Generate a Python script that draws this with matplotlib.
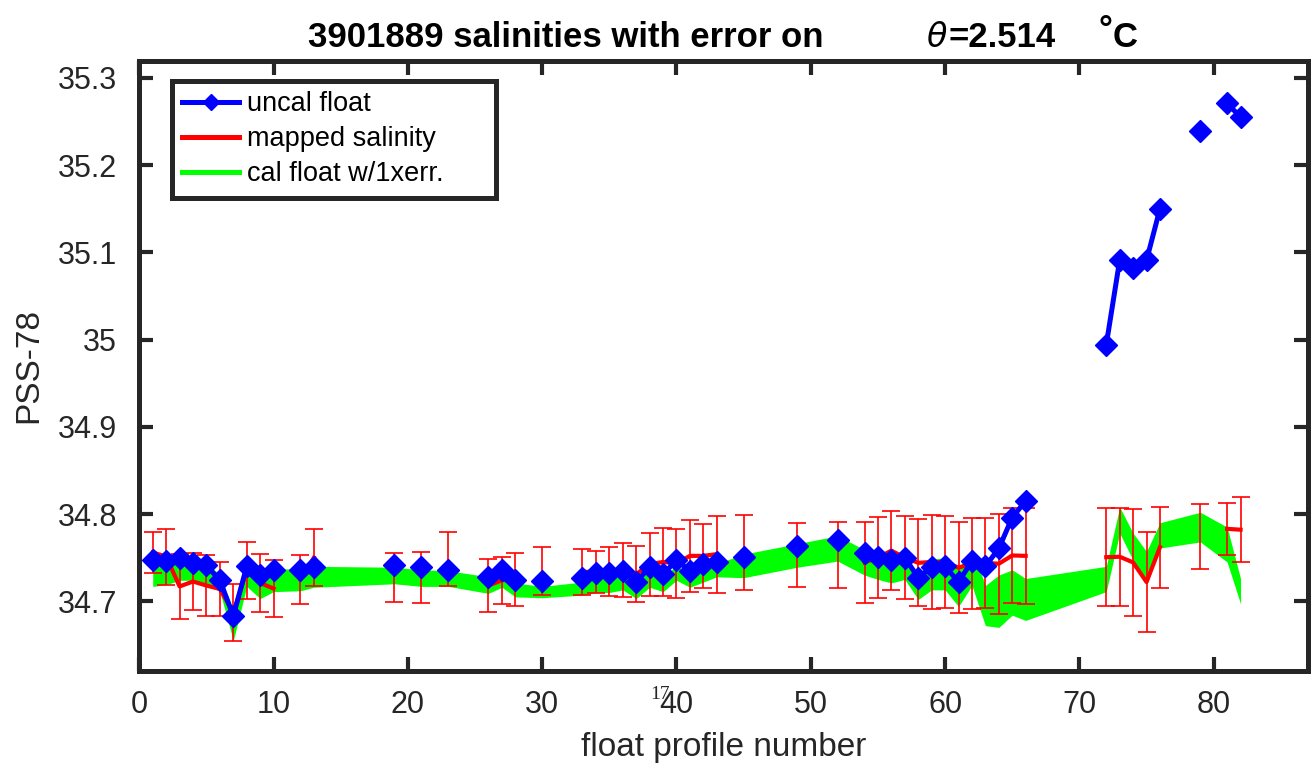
import numpy as np
import matplotlib.pyplot as plt
from matplotlib.lines import Line2D

plt.rcParams['font.family'] = ['Liberation Sans', 'DejaVu Sans']

# float profile numbers that have data
profiles = [1, 2, 3, 4, 5, 6, 7, 8, 9, 10, 12, 13, 19, 21, 23, 26, 27, 28, 30,
            33, 34, 35, 36, 37, 38, 39, 40, 41, 42, 43, 45, 49, 52,
            54, 55, 56, 57, 58, 59, 60, 61, 62, 63, 64, 65, 66,
            72, 73, 74, 75, 76, 79, 81, 82]

uncal_sal = [34.747, 34.746, 34.750, 34.744, 34.741, 34.724, 34.683, 34.740, 34.730, 34.736,
             34.736, 34.739, 34.741, 34.739, 34.736, 34.728, 34.736, 34.724, 34.723,
             34.727, 34.732, 34.7325, 34.735, 34.722, 34.739, 34.731, 34.747, 34.735, 34.7425, 34.745,
             34.751, 34.763, 34.770,
             34.7555, 34.751, 34.747, 34.750, 34.727, 34.739, 34.740, 34.722, 34.746, 34.740,
             34.7605, 34.796, 34.815,
             34.994, 35.091, 35.082, 35.091, 35.150, 35.2395, 35.271, 35.255]

mapped_sal = [34.756, 34.751, 34.717, 34.7226, 34.718, 34.714, 34.687, 34.735, 34.721, 34.7145,
              34.725, 34.750, 34.727, 34.727, 34.748, 34.718, 34.724, 34.725, 34.7345,
              34.7335, 34.734, 34.734, 34.7355, 34.731, 34.7425, 34.745, 34.7435, 34.752, 34.752, 34.754,
              34.756, 34.753, 34.753,
              34.7445, 34.750, 34.758, 34.750, 34.744, 34.745, 34.745, 34.7385, 34.743, 34.744,
              34.743, 34.7525, 34.752,
              34.7505, 34.751, 34.7445, 34.722, 34.762, 34.774, 34.783, 34.782]

mapped_err = [0.0235, 0.032, 0.037, 0.033, 0.0345, 0.031, 0.033, 0.033, 0.033, 0.0325,
              0.028, 0.033, 0.028, 0.029, 0.031, 0.030, 0.027, 0.0305, 0.0275,
              0.0265, 0.024, 0.028, 0.031, 0.032, 0.036, 0.0395, 0.0395, 0.041, 0.037, 0.044,
              0.043, 0.037, 0.0375,
              0.0465, 0.0465, 0.045, 0.048, 0.050, 0.054, 0.053, 0.0525, 0.052, 0.052,
              0.0575, 0.0545, 0.055,
              0.0565, 0.056, 0.0615, 0.057, 0.0465, 0.037, 0.030, 0.037]

# calibrated float salinity minus / plus its error
cal_lo = [34.717, 34.719, 34.724, 34.724, 34.720, 34.711, 34.655, 34.717, 34.703, 34.711,
          34.712, 34.716, 34.720, 34.717, 34.717, 34.709, 34.716, 34.705, 34.704,
          34.707, 34.710, 34.710, 34.713, 34.703, 34.716, 34.711, 34.724, 34.716, 34.722, 34.728,
          34.727, 34.739, 34.746,
          34.730, 34.725, 34.721, 34.725, 34.702, 34.713, 34.713, 34.694, 34.718, 34.672,
          34.670, 34.684, 34.678,
          34.711, 34.778, 34.747, 34.724, 34.761, 34.768, 34.745, 34.697]
cal_hi = [34.748, 34.748, 34.752, 34.748, 34.745, 34.730, 34.690, 34.742, 34.733, 34.737,
          34.737, 34.740, 34.739, 34.736, 34.735, 34.728, 34.736, 34.721, 34.717,
          34.722, 34.727, 34.727, 34.729, 34.718, 34.737, 34.728, 34.741, 34.731, 34.739, 34.743,
          34.754, 34.766, 34.775,
          34.759, 34.754, 34.750, 34.752, 34.730, 34.748, 34.750, 34.738, 34.761, 34.718,
          34.730, 34.736, 34.726,
          34.740, 34.808, 34.778, 34.757, 34.790, 34.802, 34.785, 34.726]

all_profiles = np.arange(1, 83)


def with_gaps(vals):
    # missing profiles become NaN so the lines break there
    out = np.full(all_profiles.size, np.nan)
    out[np.array(profiles) - 1] = vals
    return out


fig = plt.figure(figsize=(13.16, 7.66), dpi=100)
W, H = 1316, 766
ax = fig.add_axes([139.3 / W, 1 - 671 / H, (1307.7 - 139.3) / W, (671 - 60.5) / H])

ax.fill_between(profiles, cal_lo, cal_hi, color='#00ff00', lw=0, zorder=1)
ax.plot(all_profiles, with_gaps(mapped_sal), color='red', lw=3, zorder=2)
ax.errorbar(profiles, mapped_sal, yerr=mapped_err, fmt='none', ecolor='red',
            elinewidth=1.2, capsize=6.8, capthick=1.2, zorder=3)
ax.plot(all_profiles, with_gaps(uncal_sal), color='blue', lw=3.6, marker='D', ms=11,
        mec='blue', zorder=4)

ax.set_xlim(0, 87)
ax.set_ylim(34.62, 35.32)
ax.set_xticks(np.arange(0, 81, 10))
ax.set_yticks(np.arange(34.7, 35.31, 0.1))
ax.set_yticklabels(['%g' % round(v, 1) for v in np.arange(34.7, 35.31, 0.1)])

dark = '#262626'
for s in ax.spines.values():
    s.set_linewidth(3.6)
    s.set_color(dark)
ax.tick_params(direction='in', length=10, width=3, color=dark, labelcolor=dark,
               labelsize=22, top=True, right=True)
ax.tick_params(axis='x', pad=14)
ax.tick_params(axis='y', pad=16)

ax.set_xlabel('float profile number', fontsize=24, color=dark, labelpad=8)
ax.set_ylabel('PSS-78', fontsize=24, color=dark, labelpad=10)

handles = [Line2D([], [], color='blue', lw=3.6, marker='D', ms=8),
           Line2D([], [], color='red', lw=3.6),
           Line2D([], [], color='#00ff00', lw=3.6)]
leg = ax.legend(handles, ['uncal float', 'mapped salinity', 'cal float w/1xerr.'],
                loc='upper left', bbox_to_anchor=(0.0277, 0.967, 0.2776, 0.0),
                mode='expand', borderaxespad=0,
                fontsize=19.5, fancybox=False, framealpha=1, edgecolor=dark,
                handlelength=2.1, handletextpad=0.3, labelspacing=0.33, borderpad=0.4)
leg.get_frame().set_linewidth(3.6)
for t in leg.get_texts():
    t.set_color('black')

# title pieces
fig.text(308 / W, 1 - 47 / H, '3901889 salinities with error on', fontsize=25,
         fontweight='bold', va='baseline', ha='left')
fig.text(926 / W, 1 - 47 / H, r'$\theta$', fontsize=24, va='baseline', ha='left')
fig.text(948 / W, 1 - 47 / H, '=2.514', fontsize=25, fontweight='bold',
         va='baseline', ha='left')
fig.text(1098 / W, 1 - 40 / H, '°', fontsize=25, fontweight='bold',
         va='baseline', ha='left')
fig.text(1113 / W, 1 - 47 / H, 'C', fontsize=25, fontweight='bold',
         va='baseline', ha='left')

# stray label left under the axis
fig.text(650 / W, 1 - 699 / H, '17', fontsize=14, family=['Liberation Serif'],
         va='baseline', ha='left', color=dark)

fig.savefig('out.png', dpi=100)
